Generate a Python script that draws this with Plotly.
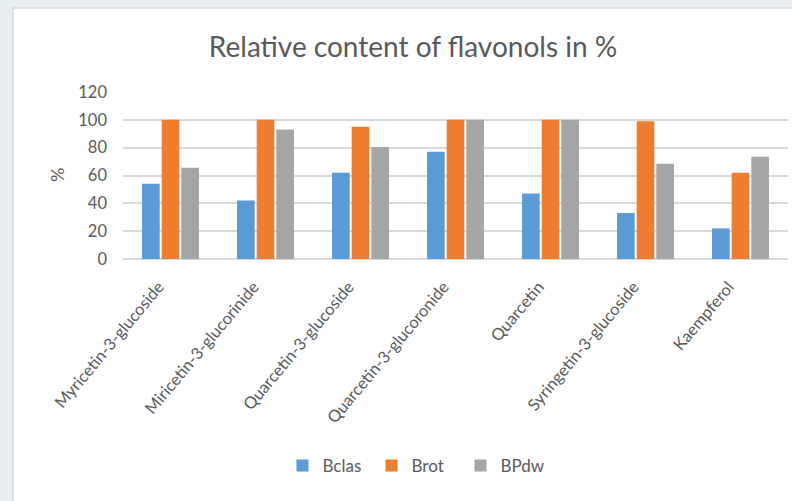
import plotly.graph_objects as go

categories = ["Myricetin-3-glucoside", "Miricetin-3-glucorinide", "Quarcetin-3-glucoside",
              "Quarcetin-3-glucoronide", "Quarcetin", "Syringetin-3-glucoside", "Kaempferol"]
bclas = [54, 42, 62, 77, 47, 33, 22]
brot = [100, 100, 95, 100, 100, 99, 62]
bpdw = [65.5, 93, 80.5, 100, 100, 68.5, 73.5]
series_names = ["Bclas", "Brot", "BPdw"]
colors = ["#5b9bd5", "#ed7d31", "#a5a5a5"]
y_ticks = [0, 20, 40, 60, 80, 100, 120]

W, H = 792, 501
L, R, T, B = 123, 4, 92, 242
pw, ph = W - L - R, H - T - B

FONT = "Lato"
fig = go.Figure()
for name, vals, col in zip(series_names, [bclas, brot, bpdw], colors):
    fig.add_trace(go.Bar(x=categories, y=vals, name=name, marker_color=col,
                         marker_line_width=0))

def px_x(p):
    return (p - L) / pw

def px_y(p):
    return (H - B - p) / ph

fig.add_shape(type="rect", xref="paper", yref="paper",
              x0=px_x(13), x1=px_x(793), y0=px_y(502), y1=px_y(8),
              fillcolor="white", line=dict(color="#d9d9d9", width=1.5), layer="below")

fig.update_layout(
    width=W, height=H,
    margin=dict(l=L, r=R, t=T, b=B, pad=0),
    paper_bgcolor="#e9f0f4",
    plot_bgcolor="rgba(0,0,0,0)",
    font=dict(family=FONT, color="#595959"),
    title=dict(text="Relative content of flavonols in %", x=413 / W, xanchor="center",
               y=1 - 47 / H, yanchor="middle", font=dict(size=28, color="#595959", family=FONT)),
    barmode="group", bargap=0.38, bargroupgap=0.1,
    xaxis=dict(tickangle=-50, tickfont=dict(size=16.5, color="#595959"), showgrid=False,
               showline=False, ticks="", ticklabelstandoff=14, ticklabelshift=-12),
    yaxis=dict(range=[0, 120], tickvals=y_ticks, tickfont=dict(size=16.5, color="#595959"),
               gridcolor="#d9d9d9", gridwidth=1.5, zeroline=True, zerolinecolor="#d9d9d9",
               zerolinewidth=1.5, showline=False, ticks="", ticklabelstandoff=15),
    legend=dict(orientation="h", x=px_x(416), xanchor="center", y=px_y(466), yanchor="middle",
                font=dict(size=17, color="#595959"), itemwidth=30, traceorder="normal",
                bgcolor="rgba(0,0,0,0)", entrywidth=44, entrywidthmode="pixels"),
    annotations=[dict(text="%", xref="paper", yref="paper", x=px_x(57), y=px_y(175),
                      xanchor="center", yanchor="middle",
                      showarrow=False, textangle=-90, font=dict(size=18, color="#595959"))],
)
fig.write_html("out.html")
